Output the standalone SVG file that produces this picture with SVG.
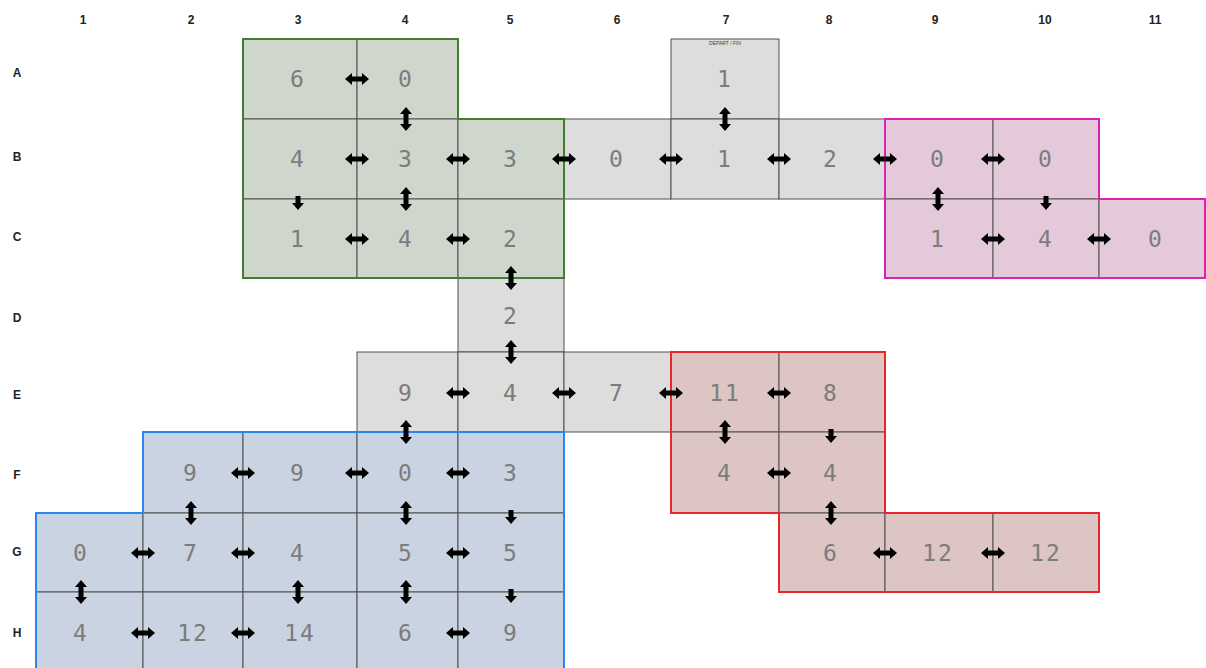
<svg xmlns="http://www.w3.org/2000/svg" width="1206" height="668" viewBox="0 0 1206 668">
<style>
.lbl{font-family:"Liberation Sans",Arial,sans-serif;font-weight:bold;font-size:12px;fill:#222;text-anchor:middle;dominant-baseline:central}
.num{font-family:"DejaVu Sans Mono","Liberation Mono",monospace;font-size:23px;fill:#7c7c7c;text-anchor:middle;letter-spacing:2px}
.cell rect{stroke:#505050;stroke-width:1}
.gray rect{fill:#dddddd}
.green rect{fill:#cfd7cc}
.pink rect{fill:#e3c9d9}
.red rect{fill:#dcc5c2}
.blue rect{fill:#c9d3e1}
.outline{fill:none;stroke-width:2}
.arr{fill:#000}
.tiny{font-family:"Liberation Sans",Arial,sans-serif;font-size:5px;fill:#444;text-anchor:middle}
</style>
<defs>
<path id="ah" d="M-12,0 L-5,-6 L-5,-2.5 L5,-2.5 L5,-6 L12,0 L5,6 L5,2.5 L-5,2.5 L-5,6 Z"/>
<path id="av" d="M0,-12 L-6,-5 L-2.5,-5 L-2.5,5 L-6,5 L0,12 L6,5 L2.5,5 L2.5,-5 L6,-5 Z"/>
<path id="ad" d="M-2.5,-3 L2.5,-3 L2.5,4 L6,4 L0,11 L-6,4 L-2.5,4 Z"/>
</defs>
<rect width="1206" height="668" fill="#ffffff"/>
<g id="labels">
<text class="lbl" x="83" y="20">1</text>
<text class="lbl" x="191" y="20">2</text>
<text class="lbl" x="298" y="20">3</text>
<text class="lbl" x="405" y="20">4</text>
<text class="lbl" x="510" y="20">5</text>
<text class="lbl" x="617" y="20">6</text>
<text class="lbl" x="726" y="20">7</text>
<text class="lbl" x="829" y="20">8</text>
<text class="lbl" x="935" y="20">9</text>
<text class="lbl" x="1045" y="20">10</text>
<text class="lbl" x="1155" y="20">11</text>
<text class="lbl" x="17" y="73">A</text>
<text class="lbl" x="17" y="157">B</text>
<text class="lbl" x="17" y="237">C</text>
<text class="lbl" x="17" y="318">D</text>
<text class="lbl" x="17" y="395">E</text>
<text class="lbl" x="17" y="475">F</text>
<text class="lbl" x="17" y="552">G</text>
<text class="lbl" x="17" y="633">H</text>
</g>
<g id="cells">
<g id="A3" class="cell green"><rect x="243" y="39" width="114" height="80"/><text class="num" x="298" y="87">6</text></g>
<g id="A4" class="cell green"><rect x="357" y="39" width="101" height="80"/><text class="num" x="406" y="87">0</text></g>
<g id="A7" class="cell gray"><rect x="671" y="39" width="108" height="80"/><text class="tiny" x="725" y="45">DEPART / FIN</text><text class="num" x="725" y="87">1</text></g>
<g id="B3" class="cell green"><rect x="243" y="119" width="114" height="80"/><text class="num" x="298" y="167">4</text></g>
<g id="B4" class="cell green"><rect x="357" y="119" width="101" height="80"/><text class="num" x="406" y="167">3</text></g>
<g id="B5" class="cell green"><rect x="458" y="119" width="106" height="80"/><text class="num" x="511" y="167">3</text></g>
<g id="B6" class="cell gray"><rect x="564" y="119" width="107" height="80"/><text class="num" x="617" y="167">0</text></g>
<g id="B7" class="cell gray"><rect x="671" y="119" width="108" height="80"/><text class="num" x="725" y="167">1</text></g>
<g id="B8" class="cell gray"><rect x="779" y="119" width="106" height="80"/><text class="num" x="831" y="167">2</text></g>
<g id="B9" class="cell pink"><rect x="885" y="119" width="108" height="80"/><text class="num" x="938" y="167">0</text></g>
<g id="B10" class="cell pink"><rect x="993" y="119" width="106" height="80"/><text class="num" x="1046" y="167">0</text></g>
<g id="C3" class="cell green"><rect x="243" y="199" width="114" height="79"/><text class="num" x="298" y="247">1</text></g>
<g id="C4" class="cell green"><rect x="357" y="199" width="101" height="79"/><text class="num" x="406" y="247">4</text></g>
<g id="C5" class="cell green"><rect x="458" y="199" width="106" height="79"/><text class="num" x="511" y="247">2</text></g>
<g id="C9" class="cell pink"><rect x="885" y="199" width="108" height="79"/><text class="num" x="938" y="247">1</text></g>
<g id="C10" class="cell pink"><rect x="993" y="199" width="106" height="79"/><text class="num" x="1046" y="247">4</text></g>
<g id="C11" class="cell pink"><rect x="1099" y="199" width="107" height="79"/><text class="num" x="1156" y="247">0</text></g>
<g id="D5" class="cell gray"><rect x="458" y="278" width="106" height="74"/><text class="num" x="511" y="324">2</text></g>
<g id="E4" class="cell gray"><rect x="357" y="352" width="101" height="80"/><text class="num" x="406" y="401">9</text></g>
<g id="E5" class="cell gray"><rect x="458" y="352" width="106" height="80"/><text class="num" x="511" y="401">4</text></g>
<g id="E6" class="cell gray"><rect x="564" y="352" width="107" height="80"/><text class="num" x="617" y="401">7</text></g>
<g id="E7" class="cell red"><rect x="671" y="352" width="108" height="80"/><text class="num" x="725" y="401">11</text></g>
<g id="E8" class="cell red"><rect x="779" y="352" width="106" height="80"/><text class="num" x="831" y="401">8</text></g>
<g id="F2" class="cell blue"><rect x="143" y="432" width="100" height="81"/><text class="num" x="191" y="481">9</text></g>
<g id="F3" class="cell blue"><rect x="243" y="432" width="114" height="81"/><text class="num" x="298" y="481">9</text></g>
<g id="F4" class="cell blue"><rect x="357" y="432" width="101" height="81"/><text class="num" x="406" y="481">0</text></g>
<g id="F5" class="cell blue"><rect x="458" y="432" width="106" height="81"/><text class="num" x="511" y="481">3</text></g>
<g id="F7" class="cell red"><rect x="671" y="432" width="108" height="81"/><text class="num" x="725" y="481">4</text></g>
<g id="F8" class="cell red"><rect x="779" y="432" width="106" height="81"/><text class="num" x="831" y="481">4</text></g>
<g id="G1" class="cell blue"><rect x="36" y="513" width="107" height="79"/><text class="num" x="81" y="561">0</text></g>
<g id="G2" class="cell blue"><rect x="143" y="513" width="100" height="79"/><text class="num" x="191" y="561">7</text></g>
<g id="G3" class="cell blue"><rect x="243" y="513" width="114" height="79"/><text class="num" x="298" y="561">4</text></g>
<g id="G4" class="cell blue"><rect x="357" y="513" width="101" height="79"/><text class="num" x="406" y="561">5</text></g>
<g id="G5" class="cell blue"><rect x="458" y="513" width="106" height="79"/><text class="num" x="511" y="561">5</text></g>
<g id="G8" class="cell red"><rect x="779" y="513" width="106" height="79"/><text class="num" x="831" y="561">6</text></g>
<g id="G9" class="cell red"><rect x="885" y="513" width="108" height="79"/><text class="num" x="938" y="561">12</text></g>
<g id="G10" class="cell red"><rect x="993" y="513" width="106" height="79"/><text class="num" x="1046" y="561">12</text></g>
<g id="H1" class="cell blue"><rect x="36" y="592" width="107" height="90"/><text class="num" x="81" y="641">4</text></g>
<g id="H2" class="cell blue"><rect x="143" y="592" width="100" height="90"/><text class="num" x="193" y="641">12</text></g>
<g id="H3" class="cell blue"><rect x="243" y="592" width="114" height="90"/><text class="num" x="300" y="641">14</text></g>
<g id="H4" class="cell blue"><rect x="357" y="592" width="101" height="90"/><text class="num" x="406" y="641">6</text></g>
<g id="H5" class="cell blue"><rect x="458" y="592" width="106" height="90"/><text class="num" x="511" y="641">9</text></g>
</g>
<g id="regions">
<polygon class="outline" stroke="#3f7f2e" points="243,39 458,39 458,119 564,119 564,278 243,278"/>
<polygon class="outline" stroke="#e020b0" points="885,119 1099,119 1099,199 1205,199 1205,278 885,278"/>
<polygon class="outline" stroke="#e8262a" points="671,352 885,352 885,513 1099,513 1099,592 779,592 779,513 671,513"/>
<polygon class="outline" stroke="#2a86f0" points="143,432 564,432 564,690 36,690 36,513 143,513"/>
</g>
<g id="connectors" class="arr">
<use href="#ah" x="357" y="79"/>
<use href="#ah" x="357" y="159"/>
<use href="#ah" x="458" y="159"/>
<use href="#ah" x="564" y="159"/>
<use href="#ah" x="671" y="159"/>
<use href="#ah" x="779" y="159"/>
<use href="#ah" x="885" y="159"/>
<use href="#ah" x="993" y="159"/>
<use href="#ah" x="357" y="239"/>
<use href="#ah" x="458" y="239"/>
<use href="#ah" x="993" y="239"/>
<use href="#ah" x="1099" y="239"/>
<use href="#ah" x="458" y="393"/>
<use href="#ah" x="564" y="393"/>
<use href="#ah" x="671" y="393"/>
<use href="#ah" x="779" y="393"/>
<use href="#ah" x="243" y="473"/>
<use href="#ah" x="357" y="473"/>
<use href="#ah" x="458" y="473"/>
<use href="#ah" x="779" y="473"/>
<use href="#ah" x="143" y="553"/>
<use href="#ah" x="243" y="553"/>
<use href="#ah" x="458" y="553"/>
<use href="#ah" x="885" y="553"/>
<use href="#ah" x="993" y="553"/>
<use href="#ah" x="143" y="633"/>
<use href="#ah" x="243" y="633"/>
<use href="#ah" x="458" y="633"/>
<use href="#av" x="406" y="119"/>
<use href="#av" x="725" y="119"/>
<use href="#av" x="406" y="199"/>
<use href="#av" x="938" y="199"/>
<use href="#av" x="511" y="278"/>
<use href="#av" x="511" y="352"/>
<use href="#av" x="406" y="432"/>
<use href="#av" x="725" y="432"/>
<use href="#av" x="191" y="513"/>
<use href="#av" x="406" y="513"/>
<use href="#av" x="831" y="513"/>
<use href="#av" x="81" y="592"/>
<use href="#av" x="298" y="592"/>
<use href="#av" x="406" y="592"/>
<use href="#ad" x="298" y="199"/>
<use href="#ad" x="1046" y="199"/>
<use href="#ad" x="831" y="432"/>
<use href="#ad" x="511" y="513"/>
<use href="#ad" x="511" y="592"/>
</g>
</svg>
